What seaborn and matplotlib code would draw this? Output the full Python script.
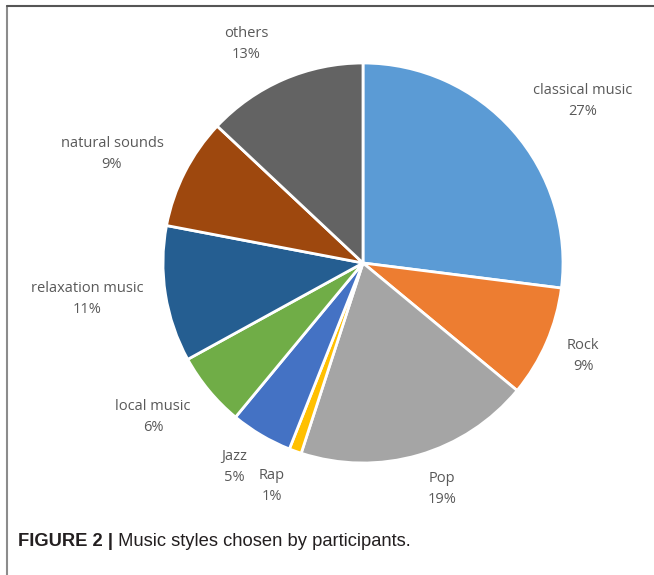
import matplotlib
matplotlib.use("Agg")
import matplotlib.pyplot as plt
from matplotlib.lines import Line2D
import seaborn as sns

# ====== data ======
styles = ["classical music", "Rock", "Pop", "Rap", "Jazz",
          "local music", "relaxation music", "natural sounds", "others"]
shares = [27, 9, 19, 1, 5, 6, 11, 9, 13]
colors = ["#5B9BD5", "#ED7D31", "#A5A5A5", "#FFC000", "#4472C4",
          "#70AD47", "#255E91", "#9E480E", "#636363"]

# label spots (pie radius = 1), picked by eye like Excel "best fit"
label_xy = [(1.10, 0.81), (1.10, -0.465), (0.395, -1.13), (-0.455, -1.115),
            (-0.645, -1.02), (-1.05, -0.77), (-1.38, -0.18), (-1.255, 0.545),
            (-0.585, 1.095)]

sns.set_theme(style="white")
plt.rcParams["font.family"] = ["Open Sans", "DejaVu Sans"]

fig = plt.figure(figsize=(6.54, 5.75), dpi=100)
ax = fig.add_axes([0, 0, 1, 1])

pal = sns.color_palette(colors)
ax.pie(shares, colors=pal, startangle=90, counterclock=False,
       wedgeprops=dict(edgecolor="white", linewidth=2))

for name, val, (lx, ly) in zip(styles, shares, label_xy):
    ax.text(lx, ly, f"{name}\n{val}%", ha="center", va="center",
            fontsize=10.5, color="#595959", linespacing=1.55)

# pixel mapping: centre at (363, 263) px, radius 200 px
ax.set_xlim(-363 / 200, (654 - 363) / 200)
ax.set_ylim((263 - 575) / 200, 263 / 200)
ax.axis("off")

# frame lines of the figure panel
fig.add_artist(Line2D([7 / 654, 7 / 654], [0, 1 - 6 / 575],
                      transform=fig.transFigure, color="#8c8c8c", lw=1.5))
fig.add_artist(Line2D([7 / 654, 1], [1 - 6 / 575, 1 - 6 / 575],
                      transform=fig.transFigure, color="#555555", lw=1.5))

# caption
cap_font = ["Liberation Sans Narrow", "Liberation Sans", "DejaVu Sans"]
t1 = fig.text(18 / 654, 1 - 541 / 575, "FIGURE 2 |", fontsize=13.2,
              fontweight="bold", family=cap_font, color="#231f20", va="center")
ax.annotate(" Music styles chosen by participants.", xy=(1, 0.5),
            xycoords=t1, va="center", ha="left", fontsize=13.2,
            family=cap_font, color="#231f20")

plt.savefig("out.png", dpi=100)
plt.close()
